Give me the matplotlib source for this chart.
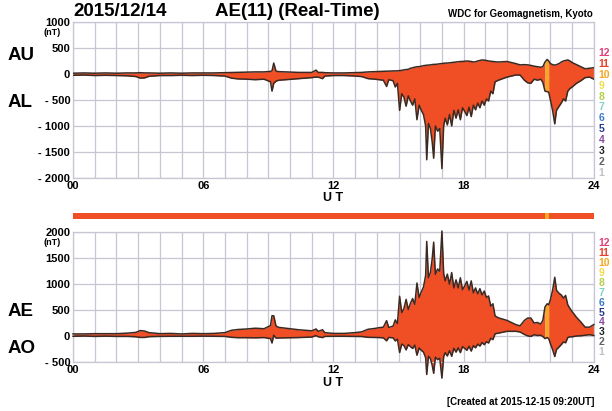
import numpy as np
import matplotlib.pyplot as plt

plt.rcParams['font.family'] = ['Liberation Sans', 'DejaVu Sans']
plt.rcParams['font.weight'] = 'bold'

# AU / AL (nT), sampled by hour of day (UT)
hours = [0, 0.5, 1, 1.5, 2, 2.5, 2.9, 3.1, 3.3, 3.5, 4, 4.5, 5, 5.5, 6, 6.5,
         7, 7.3, 7.6, 8, 8.4, 8.8, 9.1, 9.17, 9.25, 9.35, 9.4, 9.5, 9.8,
         10.1, 10.4, 10.7, 11.0, 11.2, 11.3, 11.5, 11.6, 12, 12.5,
         13.0, 13.3, 13.6, 13.9, 14.1, 14.3, 14.45, 14.55, 14.75, 14.85,
         14.95, 15.05, 15.15, 15.25, 15.35, 15.45, 15.55, 15.65, 15.75,
         15.85, 15.95, 16.05, 16.15, 16.25, 16.3, 16.38, 16.47, 16.55,
         16.62, 16.7, 16.8, 16.9, 17.0, 17.08, 17.15, 17.25, 17.35, 17.45,
         17.55, 17.65, 17.75, 17.85, 17.95, 18.05, 18.15, 18.25, 18.35,
         18.45, 18.55, 18.65, 18.75, 18.85, 18.95, 19.05, 19.15, 19.25,
         19.35, 19.45, 19.6, 19.8, 20.0, 20.2, 20.4, 20.6, 20.8, 20.95,
         21.1, 21.25, 21.4, 21.55, 21.65, 21.75, 21.85, 21.92, 22.0, 22.1,
         22.2, 22.28, 22.4, 22.5, 22.6, 22.7, 22.8, 22.9, 23.0, 23.2, 23.4,
         23.6, 23.8, 24.0]
au = [15, 20, 15, 20, 15, 20, 20, 25, 20, 20, 15, 20, 15, 20, 20, 20,
      25, 30, 30, 35, 40, 40, 50, 60, 210, 60, 50, 45, 40,
      35, 30, 30, 30, 75, 30, 30, 25, 20, 20,
      25, 30, 40, 45, 50, 50, 55, 55, 60, 60,
      60, 65, 70, 80, 85, 90, 110, 120, 130,
      140, 140, 150, 160, 165, 170, 170, 175, 180,
      185, 185, 190, 195, 200, 205, 210, 210, 215, 220,
      225, 230, 235, 240, 240, 245, 250, 245, 240,
      230, 235, 250, 260, 270, 265, 260, 250, 245,
      240, 235, 230, 235, 240, 220, 200, 175, 180, 175,
      165, 150, 140, 130, 140, 230, 280, 250, 200, 180,
      170, 180, 200, 230, 250, 260, 270, 250, 220, 180, 140,
      100, 110, 120]
al = [-25, -20, -30, -25, -30, -35, -50, -80, -75, -45, -30, -30, -25, -30, -25, -30,
      -40, -80, -95, -100, -110, -100, -150, -330, -180, -140, -130, -120, -110,
      -100, -90, -80, -70, -60, -60, -90, -40, -30, -30,
      -40, -50, -90, -100, -110, -120, -240, -110, -130, -250,
      -180, -700, -380, -450, -620, -420, -520, -600, -480,
      -880, -600, -700, -780, -1000, -1650, -950, -1050, -1300,
      -1620, -1000, -1100, -1050, -1820, -1000, -850, -980, -780, -1000,
      -700, -850, -690, -880, -650, -720, -800, -640, -820,
      -600, -690, -560, -650, -520, -600, -480, -520, -330,
      -380, -150, -120, -90, -60, -40, -20, -20, -120, -170,
      -180, -100, -120, -100, -160, -330, -340, -350, -500, -700,
      -960, -700, -620, -560, -480, -520, -330, -280, -250, -180, -130,
      -70, -60, -100]

# number of contributing stations per time span
seg_start = [0, 21.75, 21.92]
seg_end = [21.75, 21.92, 24]
seg_count = [11, 10, 11]

count_colors = {12: '#e0407a', 11: '#f04e25', 10: '#f5a623', 9: '#f2dc4a',
                8: '#b5cf4a', 7: '#7fd0c8', 6: '#3a78c8', 5: '#28388f',
                4: '#8a4aa0', 3: '#202020', 2: '#606060', 1: '#c0c0c0'}

t = np.array(hours)
au = np.array(au)
al = np.array(al)
ae = au - al
ao = (au + al) / 2

grid_c = '#c6c7d2'
edge_c = '#3a2a24'

fig = plt.figure(figsize=(6.12, 4.11), dpi=100)
ax1 = fig.add_axes([0.1193, 0.567, 0.851, 0.3795])
axb = fig.add_axes([0.1193, 0.468, 0.851, 0.0135])
ax2 = fig.add_axes([0.1193, 0.1192, 0.851, 0.3163])


def style(ax, ymin, ymax, yticks, ylabels):
    ax.set_xlim(0, 24)
    ax.set_ylim(ymin, ymax)
    ax.set_xticks(np.arange(0, 25, 1), minor=True)
    ax.set_xticks([0, 6, 12, 18, 24])
    ax.set_xticklabels(['00', '06', '12', '18', '24'], fontsize=8, fontweight='bold')
    ax.set_yticks(yticks)
    ax.set_yticklabels(ylabels, fontsize=8, fontweight='bold')
    ax.grid(True, which='both', color=grid_c, lw=0.9)
    ax.tick_params(length=0, which='both', pad=2)
    for s in ax.spines.values():
        s.set_color(grid_c)
        s.set_linewidth(0.9)
    ax.set_axisbelow(True)


def fill_segments(ax, lo, hi, clip=True):
    for a, b, n in zip(seg_start, seg_end, seg_count):
        m = (t >= a) & (t <= b)
        ax.fill_between(t, lo, hi, where=m, color=count_colors[n], lw=0,
                        clip_on=clip, zorder=2)
    ax.plot(t, hi, color=edge_c, lw=1.1, clip_on=clip, zorder=3)
    ax.plot(t, lo, color=edge_c, lw=1.1, clip_on=clip, zorder=3)


style(ax1, -2000, 1000, [-2000, -1500, -1000, -500, 0, 500, 1000],
      ['- 2000', '- 1500', '- 1000', '- 500', '0', '500', '1000'])
fill_segments(ax1, al, au)

style(ax2, -500, 2000, [-500, 0, 500, 1000, 1500, 2000],
      ['- 500', '0', '500', '1000', '1500', '2000'])
fill_segments(ax2, ao, ae, clip=False)

# station-count bar
axb.set_xlim(0, 24)
axb.set_ylim(0, 1)
for a, b, n in zip(seg_start, seg_end, seg_count):
    axb.axvspan(a, b, color=count_colors[n], lw=0)
axb.axis('off')

# y-units
fig.text(0.100, 0.921, '(nT)', fontsize=6.5, ha='right', va='center')
fig.text(0.100, 0.411, '(nT)', fontsize=6.5, ha='right', va='center')

# index names
for s, y in [('AU', 0.864), ('AL', 0.750), ('AE', 0.243), ('AO', 0.151)]:
    fig.text(0.013, y, s, fontsize=13.5, ha='left', va='center')

fig.text(0.544, 0.519, 'U T', fontsize=9, ha='center', va='center')
fig.text(0.544, 0.068, 'U T', fontsize=9, ha='center', va='center')

fig.text(0.1193, 0.971, '2015/12/14', fontsize=13.5, ha='left', va='center')
fig.text(0.351, 0.971, 'AE(11) (Real-Time)', fontsize=13.5, ha='left', va='center')
fig.text(0.969, 0.966, 'WDC for Geomagnetism, Kyoto', fontsize=7, ha='right', va='center')
fig.text(0.972, 0.022, '[Created at 2015-12-15 09:20UT]', fontsize=7, ha='right', va='center')

# station-count key on the right
for i, n in enumerate(range(12, 0, -1)):
    c = count_colors[n] if n != 11 else '#e8412c'
    fig.text(0.978, 0.871 - i * 0.0265, str(n), fontsize=7.5, color=c,
             ha='left', va='center')
    fig.text(0.978, 0.409 - i * 0.0242, str(n), fontsize=7.5, color=c,
             ha='left', va='center')

fig.savefig('out.png', dpi=100)
